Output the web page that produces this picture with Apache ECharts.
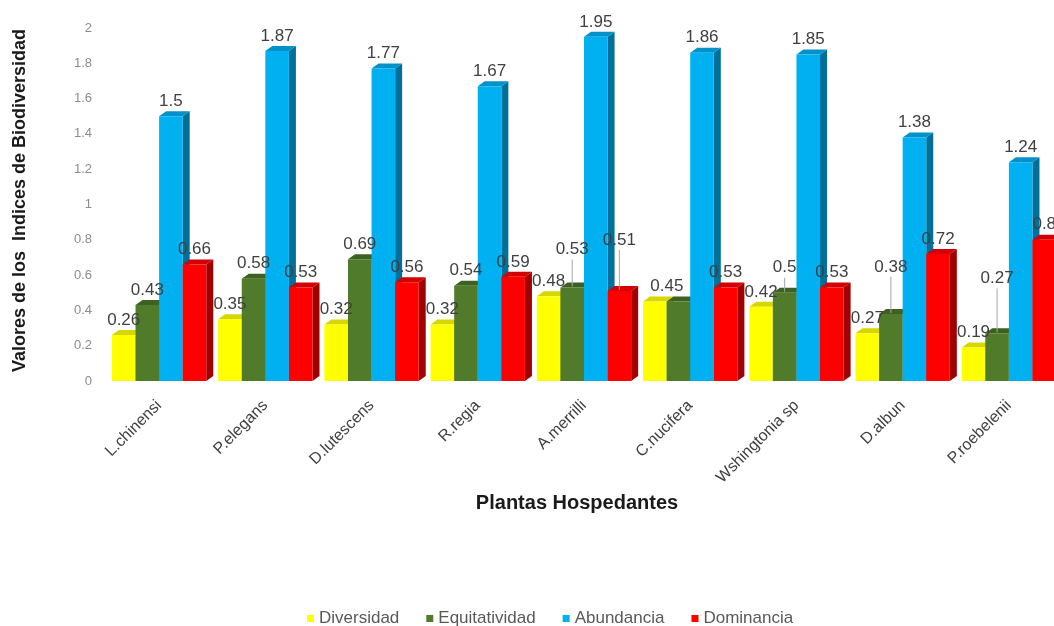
<!DOCTYPE html>
<html>
<head>
<meta charset="utf-8">
<script src="https://cdn.jsdelivr.net/npm/echarts@6/dist/echarts.min.js"></script>
<style>
  html, body { margin: 0; padding: 0; background: #ffffff; }
  #chart { width: 1054px; height: 626px; }
</style>
</head>
<body>
<div id="chart"></div>
<script>
// Host plants
const categories = ['L.chinensi', 'P.elegans', 'D.lutescens', 'R.regia', 'A.merrilli',
  'C.nucifera', 'Wshingtonia sp', 'D.albun', 'P.roebelenii'];

// Biodiversity indices per host plant
const diversidad    = [0.26, 0.35, 0.32, 0.32, 0.48, 0.45, 0.42, 0.27, 0.19];
const equitatividad = [0.43, 0.58, 0.69, 0.54, 0.53, 0.45, 0.5, 0.38, 0.27];
const abundancia    = [1.5, 1.87, 1.77, 1.67, 1.95, 1.86, 1.85, 1.38, 1.24];
const dominancia    = [0.66, 0.53, 0.56, 0.59, 0.51, 0.53, 0.53, 0.72, 0.8];

const seriesNames = ['Diversidad', 'Equitatividad', 'Abundancia', 'Dominancia'];
const seriesValues = [diversidad, equitatividad, abundancia, dominancia];

// Face colours of the extruded bars: front, top, side
const palette = [
  { front: '#FFFF00', top: '#D6D600', side: '#B8B800' },
  { front: '#4F7B2A', top: '#3D6120', side: '#30501A' },
  { front: '#00B0F0', top: '#0092C8', side: '#00709A' },
  { front: '#FF0000', top: '#D40000', side: '#A00000' }
];

const DEPTH_X = 7;        // extrusion to the right
const DEPTH_Y = 5;        // extrusion upward
const GROUP_FILL = 0.888; // share of a category band taken by the bar group
const LABEL_RISE = -15;   // default label centre above the bar's front top

// Hand-placed labels: [dx, dy, leader line, shares the neighbour's label]
const labelNudges = {
  0: { 5: [12, LABEL_RISE] },
  1: { 4: [0, -38, true], 5: [-11, LABEL_RISE, false, true], 6: [0, -25, true], 7: [0, -47, true], 8: [0, -55, true] },
  3: { 4: [0, -51, true] }
};

function barGeometry(api, s) {
  const ci = api.value(0);
  const v = api.value(1);
  const p0 = api.coord([ci, 0]);
  const p1 = api.coord([ci, v]);
  const bw = api.size([1, 0])[0] * GROUP_FILL / 4;
  const x = p0[0] - 2 * bw + s * bw;
  return { ci, v, x, bw, yb: p0[1], yt: p1[1] };
}

function barRenderer(s) {
  const c = palette[s];
  return function (params, api) {
    const { x, bw, yb, yt } = barGeometry(api, s);
    return {
      type: 'group',
      children: [
        { type: 'polygon', shape: { points: [[x + bw, yt], [x + bw + DEPTH_X, yt - DEPTH_Y], [x + bw + DEPTH_X, yb - DEPTH_Y], [x + bw, yb]] }, style: { fill: c.side } },
        { type: 'polygon', shape: { points: [[x, yt], [x + DEPTH_X, yt - DEPTH_Y], [x + bw + DEPTH_X, yt - DEPTH_Y], [x + bw, yt]] }, style: { fill: c.top } },
        { type: 'rect', shape: { x: x, y: yt, width: bw, height: yb - yt }, style: { fill: c.front } }
      ]
    };
  };
}

function labelRenderer(s) {
  return function (params, api) {
    const g = barGeometry(api, s);
    const nudge = (labelNudges[s] && labelNudges[s][g.ci]) || [0, LABEL_RISE, false];
    const cx = g.x + g.bw / 2 + nudge[0];
    const cy = g.yt + nudge[1];
    const children = [];
    if (nudge[2]) {
      children.push({
        type: 'line',
        shape: { x1: g.x + g.bw / 2, y1: cy + 10, x2: g.x + g.bw / 2, y2: g.yt - 1 },
        style: { stroke: '#a6a6a6', lineWidth: 1 }
      });
    }
    // a label sitting exactly on its neighbour's identical label is drawn once
    if (!nudge[3]) {
      children.push({
        type: 'text',
        x: cx, y: cy,
        style: {
          text: String(g.v),
          fill: '#404040',
          font: '17px "Liberation Sans", Arial, sans-serif',
          align: 'center',
          verticalAlign: 'middle'
        }
      });
    }
    return { type: 'group', children };
  };
}

const series = [];
seriesNames.forEach((name, s) => {
  series.push({
    name, type: 'custom', z: 2,
    itemStyle: { color: palette[s].front },
    encode: { x: 0, y: 1 },
    renderItem: barRenderer(s),
    data: seriesValues[s].map((v, i) => [i, v])
  });
});
seriesNames.forEach((name, s) => {
  series.push({
    name, type: 'custom', z: 5, silent: true,
    itemStyle: { color: palette[s].front },
    encode: { x: 0, y: 1 },
    renderItem: labelRenderer(s),
    data: seriesValues[s].map((v, i) => [i, v])
  });
});

const chart = echarts.init(document.getElementById('chart'));
chart.setOption({
  animation: false,
  backgroundColor: '#ffffff',
  textStyle: { fontFamily: '"Liberation Sans", Arial, sans-serif' },
  grid: { left: 106, top: 28, width: 956, height: 353, outerBoundsMode: 'none', containLabel: false },
  legend: {
    data: seriesNames,
    left: 302, top: 605,
    icon: 'rect', itemWidth: 7, itemHeight: 7, itemGap: 27,
    textStyle: { fontSize: 17, color: '#595959' }
  },
  xAxis: {
    type: 'category',
    data: categories,
    name: 'Plantas Hospedantes',
    nameLocation: 'middle',
    nameGap: 112,
    nameTextStyle: { fontSize: 20, fontWeight: 'bold', color: '#1a1a1a', padding: [0, 14, 0, 0] },
    axisLine: { show: false },
    axisTick: { show: false },
    axisLabel: { interval: 0, rotate: 45, margin: 22, fontSize: 16, color: '#404040' }
  },
  yAxis: {
    type: 'value',
    min: 0, max: 2, interval: 0.2,
    name: 'Valores de los  Indices de Biodiversidad',
    nameLocation: 'middle',
    nameGap: 77,
    nameTextStyle: { fontSize: 18, fontWeight: 'bold', color: '#1a1a1a', padding: [0, 0, 0, 8] },
    axisLine: { show: false },
    axisTick: { show: false },
    splitLine: { show: false },
    axisLabel: { margin: 14, fontSize: 13, color: '#8c8c8c', formatter: v => String(+v.toFixed(1)) }
  },
  series
});
</script>
</body>
</html>
